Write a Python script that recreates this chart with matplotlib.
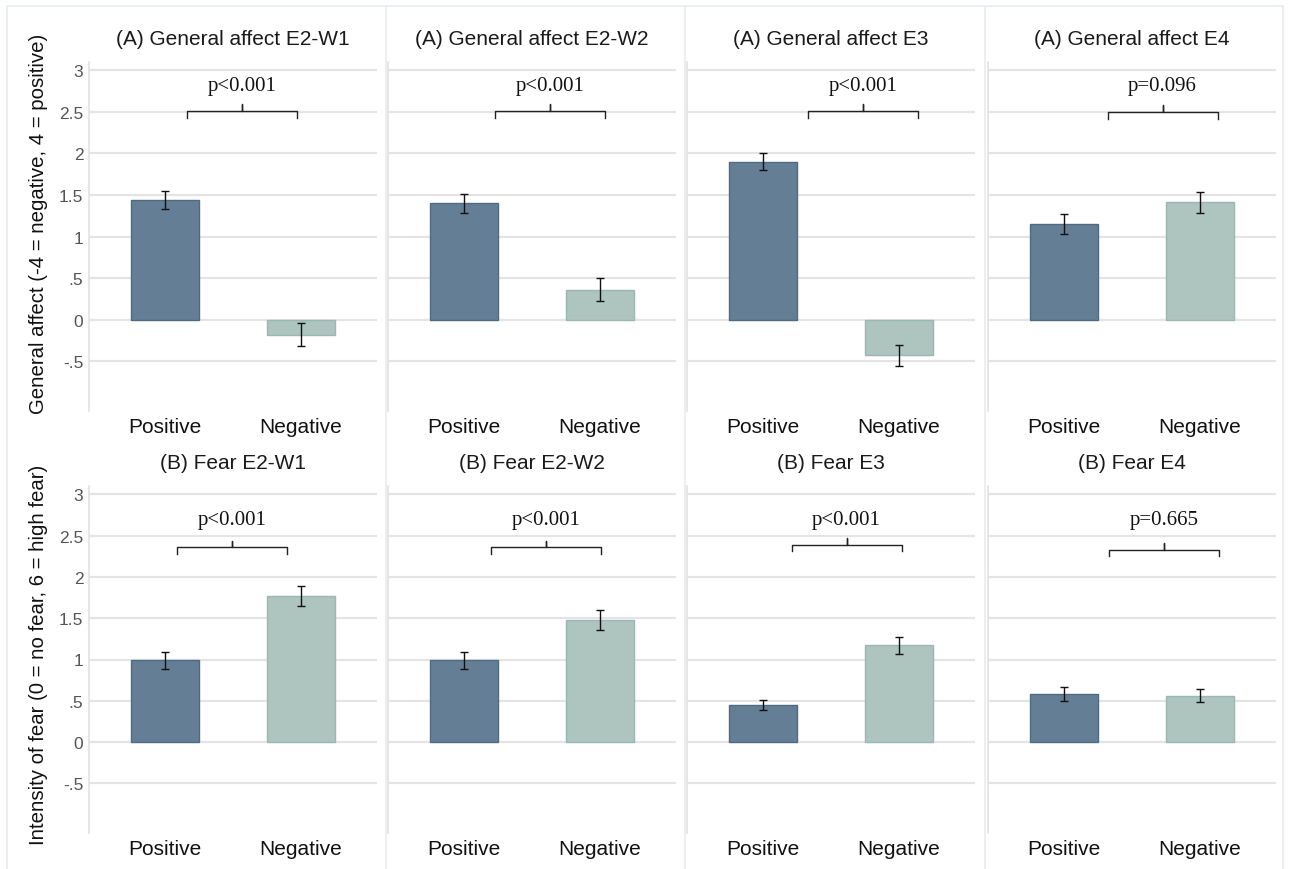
import numpy as np
import matplotlib
matplotlib.use("Agg")
import matplotlib.pyplot as plt
from matplotlib.lines import Line2D

plt.rcParams['font.family'] = ['Liberation Sans', 'DejaVu Sans']

# ---- data ----
categories = ["Positive", "Negative"]

affect_titles = ["(A) General affect E2-W1", "(A) General affect E2-W2",
                 "(A) General affect E3", "(A) General affect E4"]
affect_pos = [1.44, 1.40, 1.90, 1.15]
affect_neg = [-0.18, 0.36, -0.43, 1.41]
affect_pos_err = [0.105, 0.115, 0.10, 0.125]
affect_neg_err = [0.14, 0.14, 0.125, 0.125]
affect_p = ["p<0.001", "p<0.001", "p<0.001", "p=0.096"]

fear_titles = ["(B) Fear E2-W1", "(B) Fear E2-W2", "(B) Fear E3", "(B) Fear E4"]
fear_pos = [0.99, 0.99, 0.45, 0.58]
fear_neg = [1.77, 1.48, 1.17, 0.56]
fear_pos_err = [0.105, 0.10, 0.065, 0.085]
fear_neg_err = [0.125, 0.12, 0.105, 0.08]
fear_p = ["p<0.001", "p<0.001", "p<0.001", "p=0.665"]

ytick_vals = [-0.5, 0, 0.5, 1, 1.5, 2, 2.5, 3]
ytick_labels = ["-.5", "0", ".5", "1", "1.5", "2", "2.5", "3"]

ylabels = ["General affect (-4 = negative, 4 = positive)",
           "Intensity of fear (0 = no fear, 6 = high fear)"]

# ---- annotation layout (bracket start x, height) ----
affect_bracket_x = [0.16, 0.23, 0.33, 0.32]
affect_bracket_y = [2.51, 2.51, 2.51, 2.50]
fear_bracket_x = [0.09, 0.20, 0.21, 0.33]
fear_bracket_y = [2.36, 2.36, 2.39, 2.33]
bracket_w = 0.81

POS_COL, POS_EDGE = "#647f95", "#4e6b82"
NEG_COL, NEG_EDGE = "#adc4bf", "#9cb7b1"
GRID = "#e4e4e4"
FRAME = "#e8eff1"

W, H = 1289, 870
fig = plt.figure(figsize=(W / 100, H / 100), dpi=100)

col_left = [89, 388, 687, 988]
col_w = 288
rows = [(63, 412), (487, 834)]


def px_axes(x0, y0, y1):
    return fig.add_axes([x0 / W, 1 - y1 / H, col_w / W, (y1 - y0) / H])


def draw_panel(ax, pos, neg, pos_err, neg_err, title, ptxt, bx, by, py, first):
    x = np.arange(len(categories))
    ax.bar(x, [pos, neg], width=0.5, color=[POS_COL, NEG_COL],
           edgecolor=[POS_EDGE, NEG_EDGE], linewidth=1, zorder=2)
    ax.errorbar(x, [pos, neg], yerr=[pos_err, neg_err], fmt="none",
                ecolor="#111111", elinewidth=1, capsize=3, capthick=1, zorder=3)
    ax.set_xlim(-0.56, 1.56)
    ax.set_ylim(-1.1, 3.1)
    ax.set_xticks(x)
    ax.set_xticklabels(categories, fontsize=15, color="#111111")
    ax.set_yticks(ytick_vals)
    if first:
        ax.set_yticklabels(ytick_labels, fontsize=12.5, color="#555555")
    else:
        ax.set_yticklabels([])
    ax.tick_params(axis="both", length=0)
    ax.tick_params(axis="x", pad=4.5)
    ax.tick_params(axis="y", pad=4)
    ax.grid(axis="y", color=GRID, linewidth=1.6, zorder=0)
    ax.set_axisbelow(True)
    for s in ["top", "right", "bottom"]:
        ax.spines[s].set_visible(False)
    ax.spines["left"].set_color("#e2e2e2")
    ax.spines["left"].set_linewidth(1.2)
    ax.set_title(title, fontsize=15, color="#1a1a1a", pad=13)

    # significance bracket
    x0, x1 = bx, bx + bracket_w
    xc = (x0 + x1) / 2
    d = 0.08
    ax.plot([x0, x0, xc, xc, xc, x1, x1],
            [by - d, by, by, by + d, by, by, by - d],
            color="#222222", linewidth=1, zorder=3)
    ax.text(xc, py, ptxt, ha="center", va="center", fontsize=15,
            family=["Liberation Serif", "DejaVu Serif"], color="#111111")


for i in range(4):
    ax = px_axes(col_left[i], *rows[0])
    draw_panel(ax, affect_pos[i], affect_neg[i], affect_pos_err[i], affect_neg_err[i],
               affect_titles[i], affect_p[i], affect_bracket_x[i], affect_bracket_y[i],
               2.82, i == 0)
    ax = px_axes(col_left[i], *rows[1])
    draw_panel(ax, fear_pos[i], fear_neg[i], fear_pos_err[i], fear_neg_err[i],
               fear_titles[i], fear_p[i], fear_bracket_x[i], fear_bracket_y[i],
               2.70, i == 0)

fig.text(39 / W, 1 - 224 / H, ylabels[0], rotation=90, ha="center", va="center",
         fontsize=14.7, color="#111111")
fig.text(39 / W, 1 - 655 / H, ylabels[1], rotation=90, ha="center", va="center",
         fontsize=14.7, color="#111111")


# light frame and column separators
def fline(xs, ys):
    fig.add_artist(Line2D([v / W for v in xs], [1 - v / H for v in ys],
                          color=FRAME, linewidth=1.3))


fline([7, 1283], [7, 7])
fline([7, 7], [7, H])
fline([1283, 1283], [7, H])
for sx in [386, 685, 985]:
    fline([sx, sx], [7, H])

fig.savefig("out.png", dpi=100, facecolor="white")
